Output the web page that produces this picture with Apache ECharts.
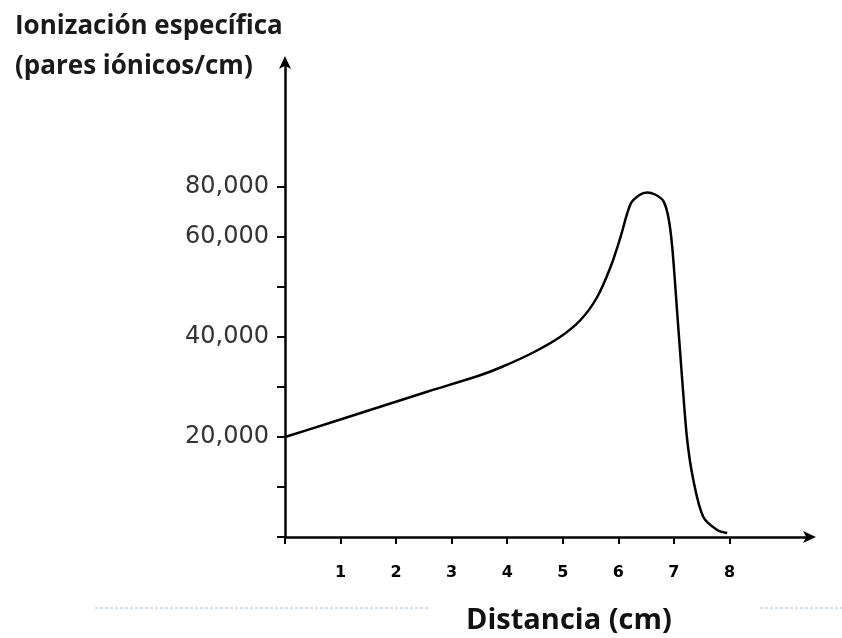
<!DOCTYPE html>
<html>
<head>
<meta charset="utf-8">
<script src="https://cdn.jsdelivr.net/npm/echarts@6/dist/echarts.min.js"></script>
<style>html,body{margin:0;padding:0;background:#fff}#c{width:842px;height:638px}</style>
</head>
<body>
<div id="c"></div>
<script>
// Distance (cm) and specific ionization
var distance = [0, 0.8, 1.7, 2.6, 3.5, 3.9, 4.45, 4.95, 5.32, 5.62, 5.86, 6.04, 6.22, 6.38, 6.52, 6.66, 6.81, 6.9, 6.97, 7.06, 7.15, 7.24, 7.35, 7.53, 7.78, 7.96];
var ionization = [20000, 22800, 26000, 29200, 32300, 34000, 36800, 40000, 43400, 48000, 54000, 60000, 66600, 68400, 68900, 68500, 67200, 64000, 58000, 44800, 31400, 19400, 11400, 4000, 1400, 800];
// Tick values and labels as printed on the original
var xTicks = [0, 1, 2, 3, 4, 5, 6, 7, 8];
var xTickLabels = ['', '1', '2', '3', '4', '5', '6', '7', '8'];
var yTicks = [0, 10000, 20000, 30000, 40000, 50000, 60000, 70000];
var yLabelValues = [20000, 40000, 60000, 70000];
var yTickLabels = ['20,000', '40,000', '60,000', '80,000'];

var points = distance.map(function (d, i) { return [d, ionization[i]]; });

var chart = echarts.init(document.getElementById('c'));
chart.setOption({
  animation: false,
  backgroundColor: '#fff',
  title: [{
    text: 'Ionización específica\n(pares iónicos/cm)',
    left: 10, top: 2,
    textStyle: { fontFamily: 'Open Sans', fontWeight: 'bold', fontSize: 26, lineHeight: 40, color: '#1a1a1a' }
  }, {
    text: 'Distancia (cm)',
    left: 461, top: 601,
    textStyle: { fontFamily: 'Open Sans', fontWeight: 'bold', fontSize: 29, color: '#111' }
  }],
  grid: { left: 285, right: 32, top: 62, bottom: 101, outerBoundsMode: 'none', containLabel: false },
  xAxis: {
    type: 'value', min: 0, max: 9.45, interval: 1,
    axisLine: { lineStyle: { color: '#000', width: 2.5 }, symbol: ['none', 'arrow'], symbolSize: [9, 13], symbolOffset: [0, 6] },
    axisTick: { show: true, length: 7, customValues: xTicks, lineStyle: { color: '#000', width: 2 } },
    axisLabel: {
      margin: 28, fontFamily: 'DejaVu Sans', fontWeight: 'bold', fontSize: 16, color: '#000',
      customValues: xTicks,
      formatter: function (v) { var i = xTicks.indexOf(v); return i >= 0 ? xTickLabels[i] : ''; }
    },
    splitLine: { show: false }
  },
  yAxis: {
    type: 'value', min: 0, max: 95000, interval: 10000,
    axisLine: { show: true, lineStyle: { color: '#000', width: 2.5 }, symbol: ['none', 'arrow'], symbolSize: [9, 13], symbolOffset: [0, 6] },
    axisTick: { show: true, length: 8, customValues: yTicks, lineStyle: { color: '#000', width: 2 } },
    axisLabel: {
      margin: 16, fontFamily: 'DejaVu Sans', fontSize: 24, color: '#333',
      customValues: yLabelValues,
      formatter: function (v) { var i = yLabelValues.indexOf(v); return i >= 0 ? yTickLabels[i] : ''; }
    },
    splitLine: { show: false }
  },
  graphic: [
    { type: 'line', shape: { x1: 95, y1: 608, x2: 430, y2: 608 }, style: { stroke: '#c6d6ea', lineWidth: 1.5, lineDash: [3, 2] } },
    { type: 'line', shape: { x1: 760, y1: 608, x2: 842, y2: 608 }, style: { stroke: '#c6d6ea', lineWidth: 1.5, lineDash: [3, 2] } }
  ],
  series: [{
    type: 'line',
    data: points,
    smooth: 0.3,
    showSymbol: false,
    lineStyle: { color: '#000', width: 2.5 }
  }]
});
</script>
</body>
</html>
